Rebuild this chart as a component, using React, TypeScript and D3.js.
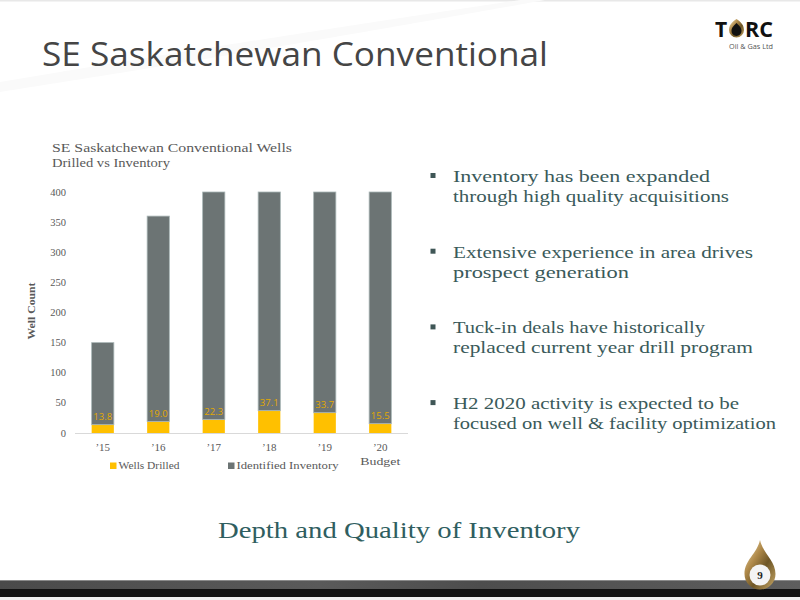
import React from "react";
import * as d3 from "d3";

const categories = ["\u201915", "\u201916", "\u201917", "\u201918", "\u201919", "\u201920"];
const categorySub = ["", "", "", "", "", "Budget"];
const wellsDrilled = [13.8, 19.0, 22.3, 37.1, 33.7, 15.5];
const identifiedInventory = [136.2, 341.0, 377.7, 362.9, 366.3, 384.5];
const yTicks = [0, 50, 100, 150, 200, 250, 300, 350, 400];
const seriesNames = ["Wells Drilled", "Identified Inventory"];
const bullets = [
  ["Inventory has been expanded", "through high quality acquisitions"],
  ["Extensive experience in area drives", "prospect generation"],
  ["Tuck-in deals have historically", "replaced current year drill program"],
  ["H2 2020 activity is expected to be", "focused on well & facility optimization"],
];
const bulletWidths = [
  [257, 276],
  [300, 176],
  [252, 300],
  [286, 323],
];

const YELLOW = "#FFC000";
const GREY = "#6C7474";
const SERIF = "'Liberation Serif', 'DejaVu Serif', serif";
const SANS = "'Open Sans', 'Noto Sans', sans-serif";

export default function App() {
  const x = d3
    .scaleBand<string>()
    .domain(categories)
    .range([75, 408])
    .paddingInner(0.6)
    .paddingOuter(0.3);
  const y = d3.scaleLinear().domain([0, 400]).range([433, 192]);

  const rows = categories.map((c, i) => ({
    cat: c,
    wells: wellsDrilled[i],
    inv: identifiedInventory[i],
  }));
  const stack = d3.stack<any>().keys(["wells", "inv"])(rows as any);
  const colors = [YELLOW, GREY];

  const dropPath = (cx: number, tipY: number, cy: number, r: number) => {
    const p = d3.path();
    p.moveTo(cx, tipY);
    p.bezierCurveTo(cx + r * 0.2, cy - r * 1.3, cx + r, cy - r * 0.9, cx + r, cy);
    p.arc(cx, cy, r, 0, Math.PI, false);
    p.bezierCurveTo(cx - r, cy - r * 0.9, cx - r * 0.2, cy - r * 1.3, cx, tipY);
    p.closePath();
    return p.toString();
  };

  return (
    <svg
      width={800}
      height={600}
      style={{ position: "absolute", left: 0, top: 0, background: "#fff" }}
    >
      <defs>
        <linearGradient id="gold" x1="0" y1="0" x2="1" y2="1">
          <stop offset="0" stopColor="#F2E3B8" />
          <stop offset="0.35" stopColor="#B08A4A" />
          <stop offset="0.6" stopColor="#6E5626" />
          <stop offset="1" stopColor="#C9A968" />
        </linearGradient>
        <linearGradient id="band" x1="0" y1="0" x2="1" y2="0">
          <stop offset="0" stopColor="#4a4a4a" />
          <stop offset="0.4" stopColor="#5a5a5a" />
          <stop offset="0.6" stopColor="#4d4d4d" />
          <stop offset="1" stopColor="#5e5e5e" />
        </linearGradient>
      </defs>

      {/* top line and faint swoosh */}
      <rect x={0} y={0} width={800} height={1.5} fill="#e8e8e8" />
      <path d="M0,82 Q250,40 520,0 L545,0 Q280,48 0,92 Z" fill="#fafafa" />

      {/* slide title */}
      <text
        x={42}
        y={66}
        fontFamily={SANS}
        fontSize={33}
        fill="#454545"
        textLength={506}
        lengthAdjust="spacingAndGlyphs"
      >
        SE Saskatchewan Conventional
      </text>

      {/* TORC logo */}
      <text x={715} y={37} fontFamily={SANS} fontWeight={700} fontSize={21} fill="#111">
        T
      </text>
      <path d={dropPath(736.5, 19, 30, 7.5)} fill="url(#gold)" />
      <path d={dropPath(736.5, 23, 31, 5)} fill="#111" />
      <text x={745} y={37} fontFamily={SANS} fontWeight={700} fontSize={21} fill="#111" textLength={28} lengthAdjust="spacingAndGlyphs">
        RC
      </text>
      <text x={729} y={49} fontFamily={SANS} fontSize={6.5} fill="#555" textLength={44} lengthAdjust="spacingAndGlyphs">
        Oil &amp; Gas Ltd
      </text>

      {/* chart title */}
      <text x={52} y={152} fontFamily={SERIF} fontSize={12.5} fill="#595959" textLength={240} lengthAdjust="spacingAndGlyphs">
        SE Saskatchewan Conventional Wells
      </text>
      <text x={52} y={167} fontFamily={SERIF} fontSize={12.5} fill="#595959" textLength={118} lengthAdjust="spacingAndGlyphs">
        Drilled vs Inventory
      </text>

      {/* y axis ticks */}
      {yTicks.map((t) => (
        <text
          key={t}
          x={66}
          y={y(t) + 3.5}
          textAnchor="end"
          fontFamily={SERIF}
          fontSize={10.5}
          fill="#595959"
        >
          {t}
        </text>
      ))}
      <text
        transform={`translate(35,311) rotate(-90)`}
        textAnchor="middle"
        fontFamily={SERIF}
        fontSize={11}
        fontWeight={700}
        fill="#595959"
        textLength={57}
        lengthAdjust="spacingAndGlyphs"
      >
        Well Count
      </text>

      {/* bars */}
      {stack.map((layer, li) =>
        layer.map((d, i) => (
          <rect
            key={`${li}-${i}`}
            x={x(categories[i])!}
            y={y(d[1])}
            width={x.bandwidth()}
            height={y(d[0]) - y(d[1])}
            fill={colors[li]}
            stroke={li === 1 ? "#A9B6B6" : "none"}
            strokeWidth={li === 1 ? 0.8 : 0}
          />
        ))
      )}

      {/* x axis line */}
      <line x1={75} x2={408} y1={433.5} y2={433.5} stroke="#D9D9D9" strokeWidth={1} />

      {/* data labels */}
      {wellsDrilled.map((v, i) => (
        <text
          key={i}
          x={x(categories[i])! + x.bandwidth() / 2}
          y={y(v) - 5}
          textAnchor="middle"
          fontFamily={SANS}
          fontSize={9.5}
          fill="#E3A900"
        >
          {v.toFixed(1)}
        </text>
      ))}

      {/* x tick labels */}
      {categories.map((c, i) => (
        <g key={c}>
          <text
            x={x(c)! + x.bandwidth() / 2}
            y={451}
            textAnchor="middle"
            fontFamily={SERIF}
            fontSize={11}
            fill="#595959"
          >
            {c}
          </text>
          {categorySub[i] && (
            <text
              x={x(c)! + x.bandwidth() / 2}
              y={465}
              textAnchor="middle"
              fontFamily={SERIF}
              fontSize={11}
              fill="#595959"
              textLength={40}
              lengthAdjust="spacingAndGlyphs"
            >
              {categorySub[i]}
            </text>
          )}
        </g>
      ))}

      {/* legend */}
      <rect x={110} y={462.5} width={6.5} height={6.5} fill={YELLOW} />
      <text x={118.5} y={468.5} fontFamily={SERIF} fontSize={11} fill="#595959" textLength={61} lengthAdjust="spacingAndGlyphs">
        {seriesNames[0]}
      </text>
      <rect x={228} y={462.5} width={6.5} height={6.5} fill={GREY} />
      <text x={236.5} y={469} fontFamily={SERIF} fontSize={11} fill="#595959" textLength={102} lengthAdjust="spacingAndGlyphs">
        {seriesNames[1]}
      </text>

      {/* bullets */}
      {bullets.map((lines, bi) => {
        const base = 182 + bi * 75.7;
        return (
          <g key={bi}>
            <rect x={430.5} y={base - 9} width={5} height={5} fill="#3F5656" />
            {lines.map((ln, li) => (
              <text
                key={li}
                x={453}
                y={base + li * 20}
                fontFamily={SERIF}
                fontSize={17}
                fill="#3A5A5A"
                textLength={bulletWidths[bi][li]}
                lengthAdjust="spacingAndGlyphs"
              >
                {ln}
              </text>
            ))}
          </g>
        );
      })}

      {/* bottom heading */}
      <text
        x={218}
        y={538}
        fontFamily={SERIF}
        fontSize={23}
        fill="#2F5E60"
        textLength={362}
        lengthAdjust="spacingAndGlyphs"
      >
        Depth and Quality of Inventory
      </text>

      {/* bottom band */}
      <rect x={0} y={580} width={800} height={9} fill="url(#band)" />
      <rect x={0} y={580} width={800} height={1} fill="#8a8a8a" />
      <rect x={0} y={589} width={800} height={8} fill="#111" />
      <rect x={0} y={597} width={800} height={3} fill="#eeeeee" />

      {/* page number drop */}
      <path d={dropPath(760, 540, 574, 15.5)} fill="url(#gold)" />
      <circle cx={760} cy={575} r={10.5} fill="#f4f4f4" />
      <text x={760} y={579} textAnchor="middle" fontFamily={SERIF} fontWeight={700} fontSize={11} fill="#222">
        9
      </text>
    </svg>
  );
}
